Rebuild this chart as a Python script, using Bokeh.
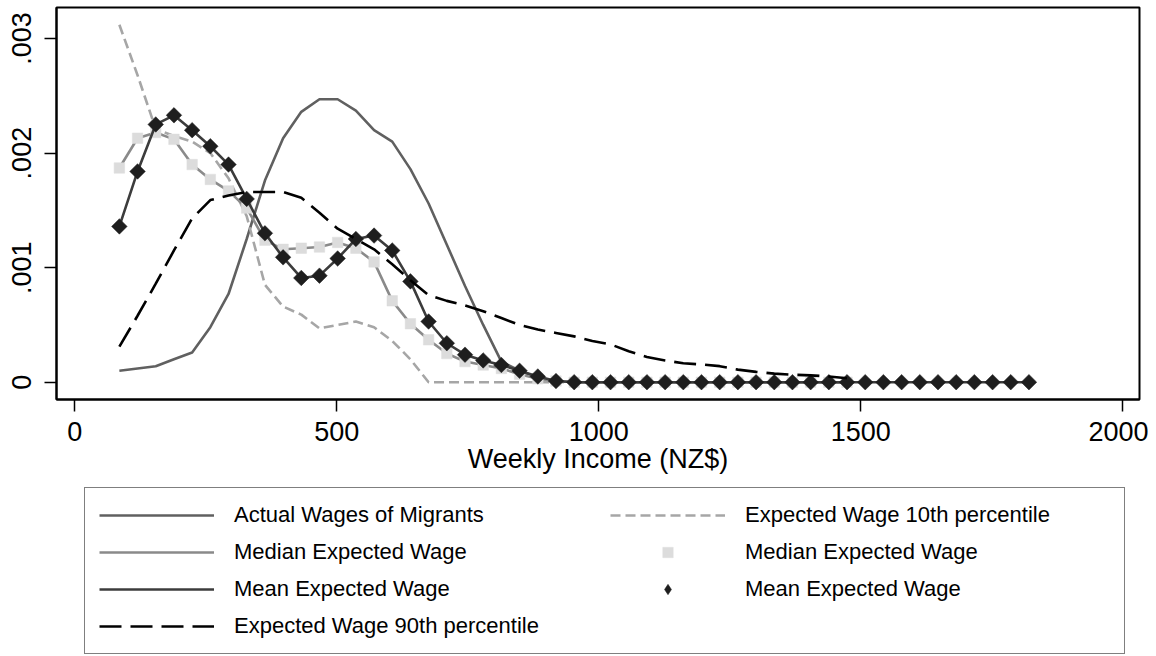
import math
from bokeh.plotting import figure
from bokeh.layouts import column
from bokeh.models import Legend, LegendItem, FixedTicker, Range1d
from bokeh.embed import file_html
from bokeh.resources import INLINE

# weekly income grid (NZ$)
income = [85.0, 119.7, 154.4, 189.2, 223.9, 258.6, 293.3, 328.0, 362.8, 397.5,
          432.2, 466.9, 501.6, 536.4, 571.1, 605.8, 640.5, 675.2, 710.0, 744.7,
          779.4, 814.1, 848.8, 883.6, 918.3, 953.0, 987.7, 1022.4, 1057.2, 1091.9,
          1126.6, 1161.3, 1196.0, 1230.8, 1265.5, 1300.2, 1334.9, 1369.6, 1404.4, 1439.1,
          1473.8, 1508.5, 1543.2, 1578.0, 1612.7, 1647.4, 1682.1, 1716.8, 1751.6, 1786.3,
          1821.0]

actual = [0.00010, 0.00012, 0.00014, 0.00020, 0.00026, 0.00048, 0.00077, 0.00125, 0.00176, 0.00213,
          0.00236, 0.00247, 0.00247, 0.00237, 0.00220, 0.00210, 0.00186, 0.00156, 0.00120, 0.00084,
          0.00050, 0.00018, 0.00010, 0.00004, 0.00001, 0.0, 0.0, 0.0, 0.0, 0.0,
          0.0, 0.0, 0.0, 0.0, 0.0, 0.0, 0.0, 0.0, 0.0, 0.0, 0.0]

p10 = [0.00312, 0.00268, 0.00221, 0.00215, 0.00210, 0.00200, 0.00178, 0.00145, 0.00085, 0.00066,
       0.00059, 0.00047, 0.00050, 0.00053, 0.00048, 0.00036, 0.00020, 0.0, 0.0, 0.0,
       0.0, 0.0, 0.0, 0.0, 0.0, 0.0, 0.0, 0.0, 0.0, 0.0,
       0.0, 0.0, 0.0, 0.0, 0.0, 0.0, 0.0, 0.0, 0.0, 0.0, 0.0]

median = [0.00187, 0.00213, 0.00218, 0.00212, 0.00190, 0.00177, 0.00167, 0.00152, 0.00124, 0.00116,
          0.00117, 0.00118, 0.00122, 0.00117, 0.00105, 0.00071, 0.00051, 0.00037, 0.00025, 0.00018,
          0.00015, 0.00012, 0.00007, 0.00003, 0.00001, 0.0, 0.0, 0.0, 0.0, 0.0,
          0.0, 0.0, 0.0, 0.0, 0.0, 0.0, 0.0, 0.0, 0.0, 0.0, 0.0]

mean = [0.00136, 0.00184, 0.00225, 0.00233, 0.00220, 0.00206, 0.00190, 0.00160, 0.00130, 0.00109,
        0.00091, 0.00093, 0.00108, 0.00125, 0.00128, 0.00115, 0.00088, 0.00053, 0.00034, 0.00024,
        0.00019, 0.00015, 0.00010, 0.00005, 0.00001, 0.0, 0.0, 0.0, 0.0, 0.0,
        0.0, 0.0, 0.0, 0.0, 0.0, 0.0, 0.0, 0.0, 0.0, 0.0,
        0.0, 0.0, 0.0, 0.0, 0.0, 0.0, 0.0, 0.0, 0.0, 0.0, 0.0]

p90 = [0.00031, 0.00058, 0.00086, 0.00115, 0.00143, 0.00159, 0.00163, 0.00166, 0.00166, 0.00166,
       0.00161, 0.00148, 0.00134, 0.00125, 0.00116, 0.00103, 0.00089, 0.00076, 0.00071, 0.00067,
       0.00062, 0.00056, 0.00050, 0.00046, 0.00043, 0.00040, 0.00036, 0.00033, 0.00027, 0.00022,
       0.00019, 0.000165, 0.000155, 0.00014, 0.00011, 0.00009, 0.000075, 0.000065, 0.00006, 0.00005,
       0.000035]

x_ticks = [0, 500, 1000, 1500, 2000]
y_ticks = [0, 0.001, 0.002, 0.003]
y_tick_labels = ["0", ".001", ".002", ".003"]

FONT = "Liberation Sans"

# ---- series styles (shared by the plot and the legend keys)
S_ACT = dict(line_color="#606060", line_width=2.6)
S_P10 = dict(line_color="#a6a6a6", line_width=2.6, line_dash="10 5")
S_MEDL = dict(line_color="#8a8a8a", line_width=2.6)
S_MEDS = dict(marker="square", size=10.5, fill_color="#dcdcdc", line_color="#dcdcdc", line_width=0.5)
S_MEANL = dict(line_color="#3c3c3c", line_width=2.6)
S_MEANS = dict(marker="square", angle=math.pi / 4, size=11, fill_color="#1e1e1e",
               line_color="#1e1e1e", line_width=0.5)
S_MEANS_KEY = dict(marker="diamond", size=21, fill_color="#1e1e1e",
                   line_color="#1e1e1e", line_width=0.5)
S_P90 = dict(line_color="black", line_width=2.6, line_dash="22 9")


def xs(vals):
    return income[:len(vals)]


def draw_series(fig, mean_marker_style):
    return dict(
        act=fig.line(xs(actual), actual, **S_ACT),
        p10=fig.line(xs(p10), p10, **S_P10),
        medl=fig.line(xs(median), median, **S_MEDL),
        meds=fig.scatter(xs(median), median, **S_MEDS),
        meanl=fig.line(xs(mean), mean, **S_MEANL),
        means=fig.scatter(xs(mean), mean, **mean_marker_style),
        p90=fig.line(xs(p90), p90, **S_P90),
    )


# ---- main plot
p = figure(width=1148, height=484, output_backend="svg", toolbar_location=None,
           x_range=Range1d(-35, 2032), y_range=Range1d(-0.000151, 0.003271),
           min_border_top=7, min_border_left=56, min_border_right=9, min_border_bottom=85)
p.background_fill_color = "white"
p.border_fill_color = "white"
p.outline_line_color = "black"
p.outline_line_width = 2
p.grid.visible = False
draw_series(p, S_MEANS)

p.xaxis.ticker = FixedTicker(ticks=x_ticks)
p.yaxis.ticker = FixedTicker(ticks=y_ticks)
p.yaxis.major_label_overrides = {t: l for t, l in zip(y_ticks, y_tick_labels)}
p.yaxis.major_label_orientation = "vertical"
for ax in (p.xaxis, p.yaxis):
    ax.axis_line_color = "black"
    ax.axis_line_width = 2
    ax.major_tick_line_color = "black"
    ax.major_tick_line_width = 1.5
    ax.major_tick_out = 12
    ax.major_tick_in = 0
    ax.minor_tick_line_color = None
    ax.major_label_text_font = FONT
    ax.major_label_text_font_size = "27px"
    ax.major_label_text_color = "black"
p.xaxis.major_label_standoff = 10
p.yaxis.major_label_standoff = 13
p.xaxis.axis_label = "Weekly Income (NZ$)"
p.xaxis.axis_label_text_font = FONT
p.xaxis.axis_label_text_font_size = "27px"
p.xaxis.axis_label_text_font_style = "normal"
p.xaxis.axis_label_text_color = "black"
p.xaxis.axis_label_standoff = 0

# ---- legend strip below the plot (same series, drawn outside its visible range)
q = figure(width=1148, height=170, output_backend="svg", toolbar_location=None,
           x_range=Range1d(0, 1), y_range=Range1d(0, 1), x_axis_type=None, y_axis_type=None,
           min_border=0)
q.outline_line_color = None
q.grid.visible = False
q.background_fill_color = "white"
q.border_fill_color = "white"
k = draw_series(q, S_MEANS_KEY)

items = [
    LegendItem(label="Actual Wages of Migrants", renderers=[k["act"]]),
    LegendItem(label="Median Expected Wage", renderers=[k["medl"]]),
    LegendItem(label="Mean Expected Wage", renderers=[k["meanl"]]),
    LegendItem(label="Expected Wage 90th percentile", renderers=[k["p90"]]),
    LegendItem(label="Expected Wage 10th percentile", renderers=[k["p10"]]),
    LegendItem(label="Median Expected Wage", renderers=[k["meds"]]),
    LegendItem(label="Mean Expected Wage", renderers=[k["means"]]),
]
legend = Legend(items=items, orientation="vertical", ncols=2, location=(28, 0),
                label_text_font=FONT, label_text_font_size="22px", label_text_color="black",
                glyph_width=115, glyph_height=26, label_height=20, label_width=365,
                label_standoff=20, spacing=11, padding=14, margin=0,
                border_line_color="black", border_line_width=1.5,
                background_fill_color="white", background_fill_alpha=1.0)
q.add_layout(legend)

open("out.html", "w").write(file_html(column(p, q, spacing=0), INLINE))
